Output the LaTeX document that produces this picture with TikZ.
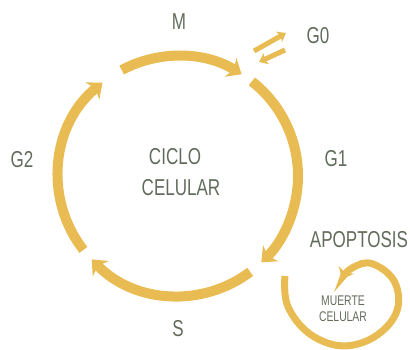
\documentclass[tikz,border=0pt]{standalone}
\usepackage{fontspec}
\setmainfont{Liberation Sans}[FakeStretch=0.74]
\usetikzlibrary{arrows.meta}
\definecolor{gold}{RGB}{232,188,82}
\definecolor{txt}{RGB}{98,108,92}
\begin{document}
\begin{tikzpicture}[x=1pt,y=1pt,
  ring/.style={gold, line width=10pt, -{Stealth[length=13pt,width=22pt,inset=4pt]}},
  thinarrow/.style={gold, line width=5pt, -{Stealth[length=8pt,width=12pt,inset=2pt]}},
  curl/.style={gold, line width=7pt, -{Stealth[length=10pt,width=17pt,inset=3pt]}},
  lbl/.style={text=txt, font=\fontsize{23}{23}\selectfont, inner sep=0pt},
  small/.style={text=txt, font=\fontsize{14}{16}\selectfont, inner sep=0pt, align=center}]
\useasboundingbox (0,0) rectangle (410,349);
\coordinate (c) at (178,173);
% cycle arcs
\draw[ring] ([shift={(118:120)}]c) arc[start angle=118, end angle=58, radius=120];
\draw[ring] ([shift={(52:120)}]c) arc[start angle=52, end angle=-46, radius=120];
\draw[ring] ([shift={(-53:120)}]c) arc[start angle=-53, end angle=-136, radius=120];
\draw[ring] ([shift={(218:120)}]c) arc[start angle=218, end angle=129, radius=120];
% G0 double arrows
\coordinate (g0a) at (254,298);
\coordinate (g0b) at (286,316);
\coordinate (g0c) at (285,299);
\coordinate (g0d) at (259,287);
\draw[thinarrow] (g0a) -- (g0b);
\draw[thinarrow] (g0c) -- (g0d);
% apoptosis curl
\draw[curl] plot[smooth, tension=0.7] coordinates {(285,73) (289,40) (318,10) (358,5) (393,30) (396,64) (373,85) (352,81) (342,70)};
% labels
\node[lbl] (m) at (179,327) {M};
\node[lbl] (g0) at (318,313) {G0};
\node[lbl] (g1) at (336,190) {G1};
\node[lbl] (g2) at (22,189) {G2};
\node[lbl] (s) at (178,20) {S};
\node[lbl] (ciclo) at (175,192) {CICLO};
\node[lbl] (celular) at (181,161) {CELULAR};
\node[lbl] (apo) at (359,109) {APOPTOSIS};
\node[small] (muerte) at (343,40) {MUERTE\\CELULAR};
\end{tikzpicture}
\end{document}
